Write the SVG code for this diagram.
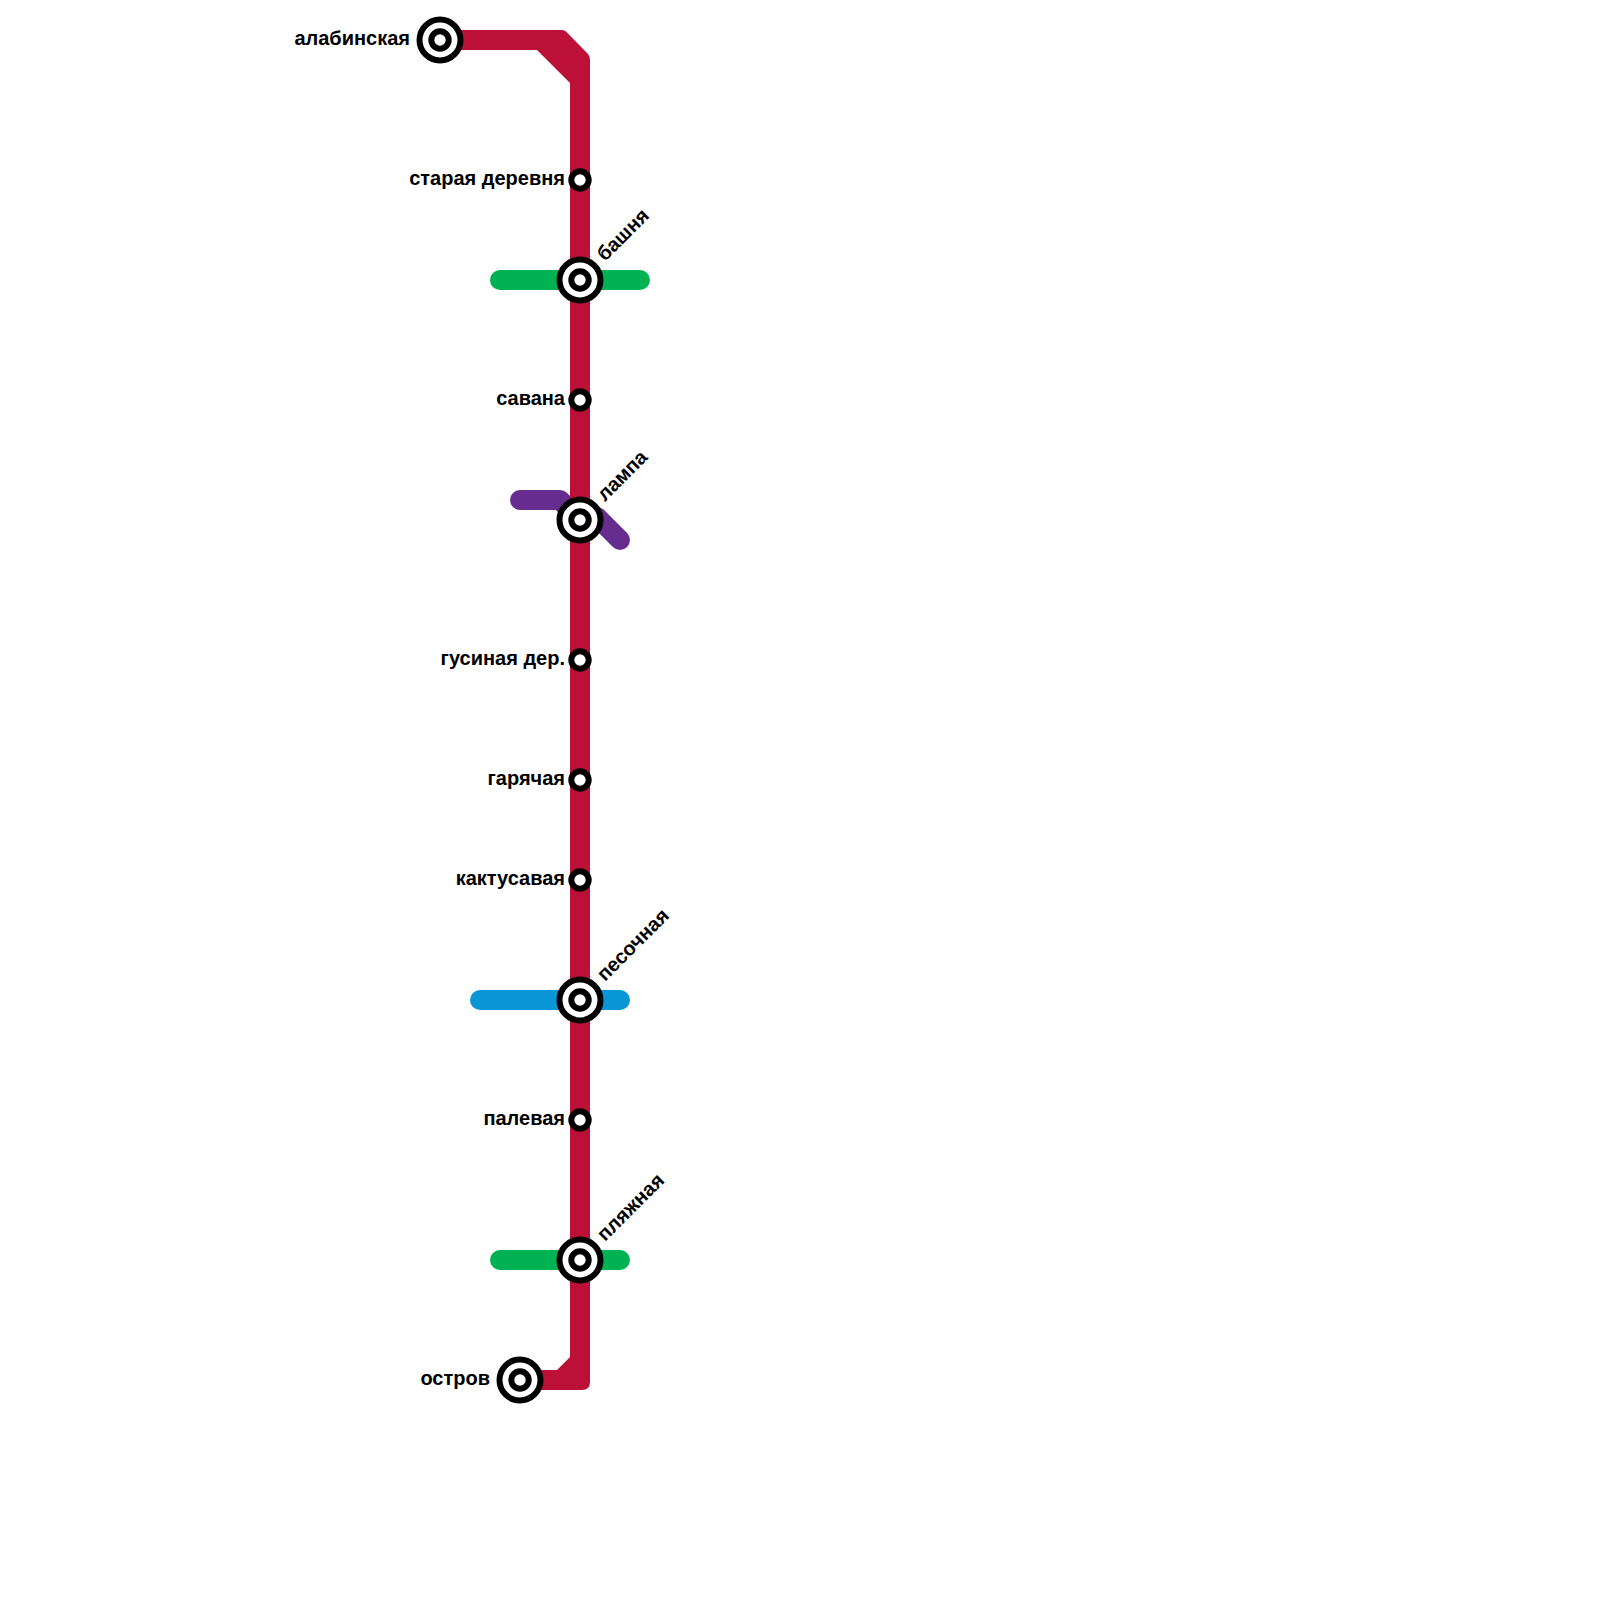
<svg xmlns="http://www.w3.org/2000/svg" width="1600" height="1600" viewBox="0 0 1600 1600">
<style>
.l{fill:none;stroke-width:20;stroke-linecap:round;stroke-linejoin:round}
.o{fill:#fff;stroke:#000;stroke-width:6}
text{font-family:"Liberation Sans",Arial,sans-serif;font-weight:700;font-size:20px;fill:#000}
.e{text-anchor:end}
</style>
<rect width="1600" height="1600" fill="#fff"/>
<g id="connectors">
<path class="l" stroke="#00b251" d="M500 280H640"/>
<path class="l" stroke="#00b251" d="M500 1260H620"/>
<path class="l" stroke="#0896d7" d="M480 1000H620"/>
<path class="l" stroke="#662c90" d="M520 500H560L580 520"/>
<path class="l" stroke="#662c90" d="M597 517L620 540"/>
<path fill="#bd1038" d="M440 30H562Q564.500 30 566 31.500L588 54Q590 56.500 590 60V1382Q590 1390 582 1390H520V1370H557L570 1357V83L537 50H440Z"/>
</g>
<g id="st-alabinskaya"><circle class="o" cx="440" cy="40" r="20.500"/><circle class="o" cx="440" cy="40" r="8.700"/><text class="e" x="410" y="45">алабинская</text></g>
<g id="st-staraya"><circle class="o" cx="580" cy="180" r="8.700"/><text class="e" x="565" y="185">старая деревня</text></g>
<g id="st-bashnya"><circle class="o" cx="580" cy="280" r="20.500"/><circle class="o" cx="580" cy="280" r="8.700"/><text transform="translate(605 262) rotate(-45)">башня</text></g>
<g id="st-savana"><circle class="o" cx="580" cy="400" r="8.700"/><text class="e" x="565" y="405">савана</text></g>
<g id="st-lampa"><circle class="o" cx="580" cy="520" r="20.500"/><circle class="o" cx="580" cy="520" r="8.700"/><text transform="translate(605 502) rotate(-45)">лампа</text></g>
<g id="st-gusinaya"><circle class="o" cx="580" cy="660" r="8.700"/><text class="e" x="565" y="665">гусиная дер.</text></g>
<g id="st-garyachaya"><circle class="o" cx="580" cy="780" r="8.700"/><text class="e" x="565" y="785">гарячая</text></g>
<g id="st-kaktusavaya"><circle class="o" cx="580" cy="880" r="8.700"/><text class="e" x="565" y="885">кактусавая</text></g>
<g id="st-pesochnaya"><circle class="o" cx="580" cy="1000" r="20.500"/><circle class="o" cx="580" cy="1000" r="8.700"/><text transform="translate(605 982) rotate(-45)">песочная</text></g>
<g id="st-palevaya"><circle class="o" cx="580" cy="1120" r="8.700"/><text class="e" x="565" y="1125">палевая</text></g>
<g id="st-plyazhnaya"><circle class="o" cx="580" cy="1260" r="20.500"/><circle class="o" cx="580" cy="1260" r="8.700"/><text transform="translate(605 1242) rotate(-45)">пляжная</text></g>
<g id="st-ostrov"><circle class="o" cx="520" cy="1380" r="20.500"/><circle class="o" cx="520" cy="1380" r="8.700"/><text class="e" x="490" y="1385">остров</text></g>
</svg>
